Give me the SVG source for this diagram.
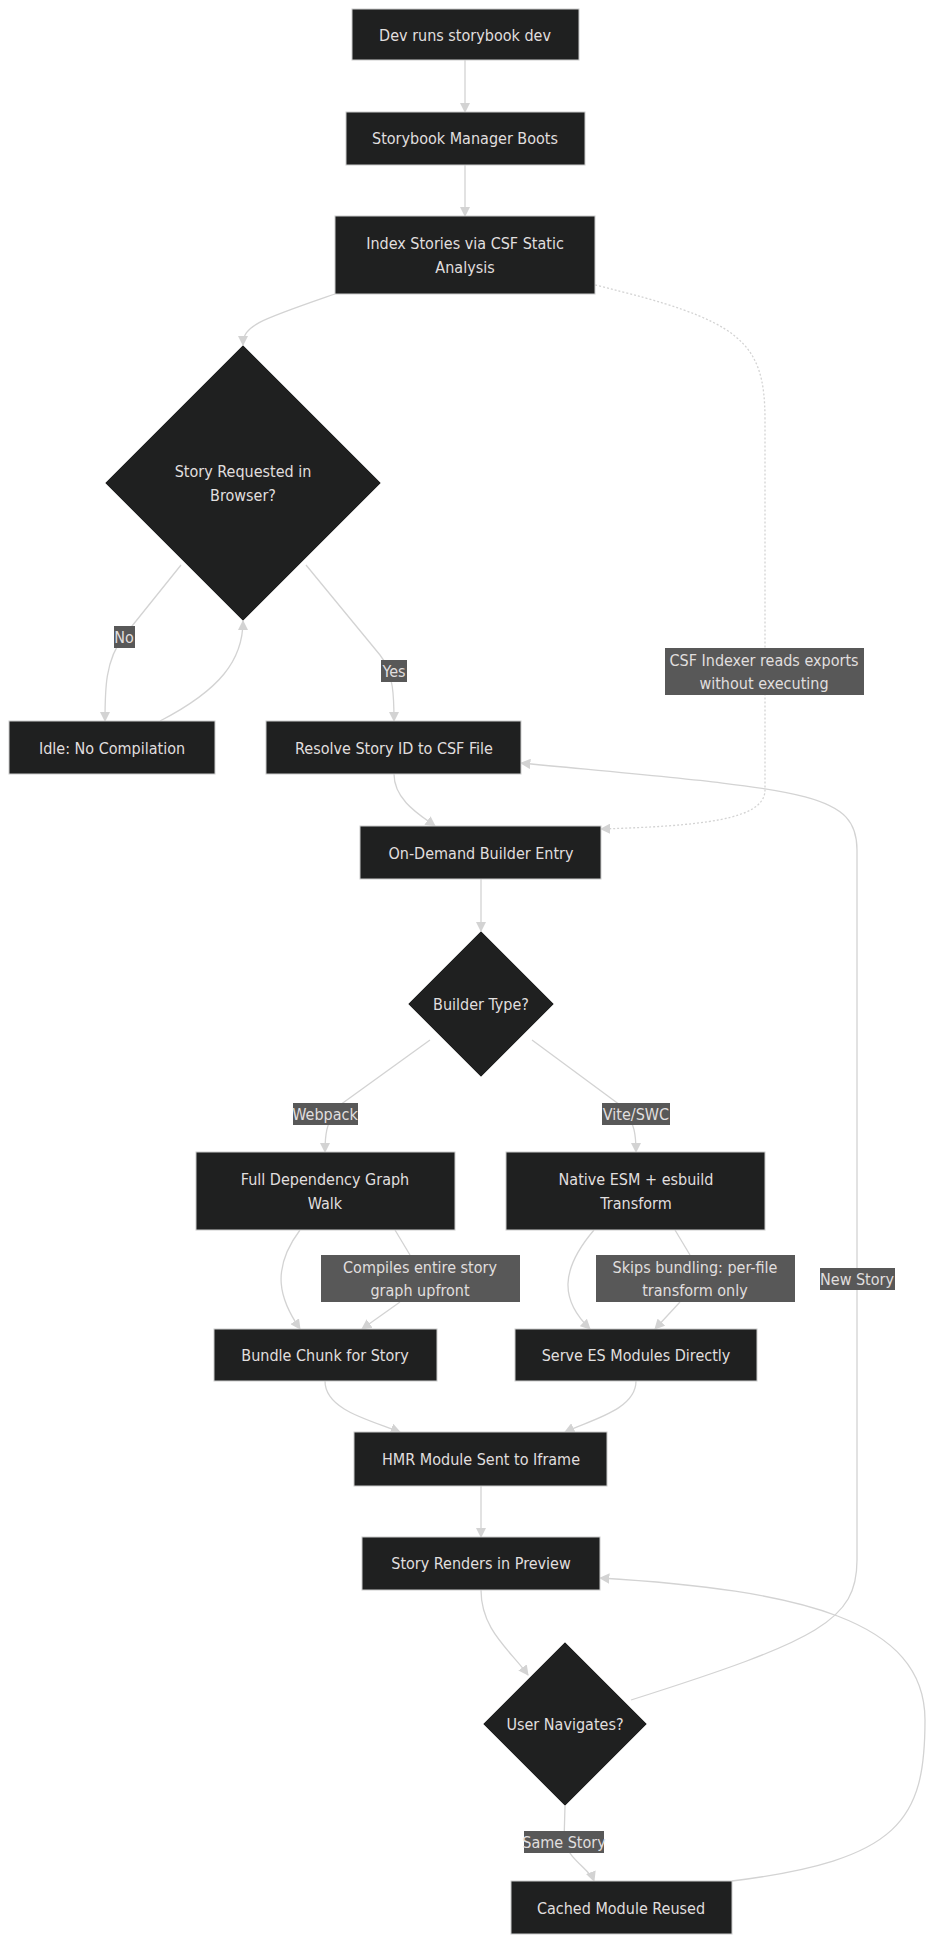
<svg xmlns="http://www.w3.org/2000/svg" width="933" height="1940" viewBox="0 0 933 1940">
<defs>
<style>
.n{fill:#1f2020;stroke:#cccccc;stroke-width:1}
.t{font-family:"DejaVu Sans Condensed","Liberation Sans",sans-serif;font-size:16px;fill:#e0dfdf;text-anchor:middle;dominant-baseline:central}
.e{fill:none;stroke:#d3d3d3;stroke-width:1.3}
.d{stroke-dasharray:2 2}
.lb{fill:#585858}
</style>
<marker id="a" viewBox="0 0 10 10" refX="9" refY="5" markerWidth="8" markerHeight="8" orient="auto"><path d="M0,0L10,5L0,10z" fill="#d3d3d3"/></marker>
</defs>
<rect width="933" height="1940" fill="#ffffff"/>
<g id="connectors">
<path class="e" marker-end="url(#a)" d="M465,60L465,112"/>
<path class="e" marker-end="url(#a)" d="M465,165L465,216"/>
<path class="e" marker-end="url(#a)" d="M335,294C260,320 243,325 243,345"/>
<path class="e d" marker-end="url(#a)" d="M595,285C740,320 765,340 765,420L765,790C765,820 700,826 601,829"/>
<path class="e" marker-end="url(#a)" d="M181,565L124,636C105,660 105,690 105,721"/>
<path class="e" marker-end="url(#a)" d="M160,721C220,690 243,660 243,621"/>
<path class="e" marker-end="url(#a)" d="M306,565L380,655C394,672 394,700 394,721"/>
<path class="e" marker-end="url(#a)" d="M394,774C394,800 420,815 435,826"/>
<path class="e" marker-end="url(#a)" d="M481,879L481,931"/>
<path class="e" marker-end="url(#a)" d="M430,1040L340,1105C325,1120 325,1140 325,1152"/>
<path class="e" marker-end="url(#a)" d="M532,1040L620,1105C636,1120 636,1140 636,1152"/>
<path class="e" marker-end="url(#a)" d="M300,1230C270,1270 280,1300 300,1329"/>
<path class="e" marker-end="url(#a)" d="M395,1230L410,1255M400,1302L362,1329"/>
<path class="e" marker-end="url(#a)" d="M594,1230C560,1270 560,1300 590,1329"/>
<path class="e" marker-end="url(#a)" d="M675,1230L690,1255M680,1302L655,1329"/>
<path class="e" marker-end="url(#a)" d="M325,1381C325,1410 370,1420 400,1432"/>
<path class="e" marker-end="url(#a)" d="M636,1381C636,1410 590,1420 565,1432"/>
<path class="e" marker-end="url(#a)" d="M481,1486L481,1537"/>
<path class="e" marker-end="url(#a)" d="M481,1590C481,1630 510,1650 528,1675"/>
<path class="e" marker-end="url(#a)" d="M631,1700C820,1640 857,1620 857,1560L857,850C857,790 800,790 521,763"/>
<path class="e" marker-end="url(#a)" d="M565,1806L564,1842C570,1860 590,1870 594,1881"/>
<path class="e" marker-end="url(#a)" d="M732,1881C900,1860 925,1820 925,1720C925,1620 800,1590 600,1578"/>
<rect class="lb" x="114" y="626" width="21" height="22"/><text class="t" x="124" y="637">No</text>
<rect class="lb" x="381" y="660" width="26" height="22"/><text class="t" x="394" y="671">Yes</text>
<rect class="lb" x="665" y="648" width="199" height="47"/><text class="t" x="764" y="660">CSF Indexer reads exports</text><text class="t" x="764" y="683">without executing</text>
<rect class="lb" x="293" y="1103" width="65" height="22"/><text class="t" x="325" y="1114">Webpack</text>
<rect class="lb" x="602" y="1103" width="68" height="22"/><text class="t" x="636" y="1114">Vite/SWC</text>
<rect class="lb" x="321" y="1255" width="199" height="47"/><text class="t" x="420" y="1267">Compiles entire story</text><text class="t" x="420" y="1290">graph upfront</text>
<rect class="lb" x="596" y="1255" width="199" height="47"/><text class="t" x="695" y="1267">Skips bundling: per-file</text><text class="t" x="695" y="1290">transform only</text>
<rect class="lb" x="820" y="1268" width="75" height="22"/><text class="t" x="857" y="1279">New Story</text>
<rect class="lb" x="524" y="1831" width="80" height="22"/><text class="t" x="564" y="1842">Same Story</text>
</g>
<g id="n1"><rect class="n" x="352" y="9" width="227" height="51"/><text class="t" x="465" y="35">Dev runs storybook dev</text></g>
<g id="n2"><rect class="n" x="346" y="112" width="239" height="53"/><text class="t" x="465" y="138">Storybook Manager Boots</text></g>
<g id="n3"><rect class="n" x="335" y="216" width="260" height="78"/><text class="t" x="465" y="243">Index Stories via CSF Static</text><text class="t" x="465" y="267">Analysis</text></g>
<g id="d1"><polygon class="n" points="243,345 381,483 243,621 105,483"/><text class="t" x="243" y="471">Story Requested in</text><text class="t" x="243" y="495">Browser?</text></g>
<g id="idle"><rect class="n" x="9" y="721" width="206" height="53"/><text class="t" x="112" y="748">Idle: No Compilation</text></g>
<g id="resolve"><rect class="n" x="266" y="721" width="255" height="53"/><text class="t" x="394" y="748">Resolve Story ID to CSF File</text></g>
<g id="ondemand"><rect class="n" x="360" y="826" width="241" height="53"/><text class="t" x="481" y="853">On-Demand Builder Entry</text></g>
<g id="d2"><polygon class="n" points="481,931 554,1004 481,1077 408,1004"/><text class="t" x="481" y="1004">Builder Type?</text></g>
<g id="full"><rect class="n" x="196" y="1152" width="259" height="78"/><text class="t" x="325" y="1179">Full Dependency Graph</text><text class="t" x="325" y="1203">Walk</text></g>
<g id="native"><rect class="n" x="506" y="1152" width="259" height="78"/><text class="t" x="636" y="1179">Native ESM + esbuild</text><text class="t" x="636" y="1203">Transform</text></g>
<g id="bundle"><rect class="n" x="214" y="1329" width="223" height="52"/><text class="t" x="325" y="1355">Bundle Chunk for Story</text></g>
<g id="serve"><rect class="n" x="515" y="1329" width="242" height="52"/><text class="t" x="636" y="1355">Serve ES Modules Directly</text></g>
<g id="hmr"><rect class="n" x="354" y="1432" width="253" height="54"/><text class="t" x="481" y="1459">HMR Module Sent to Iframe</text></g>
<g id="renders"><rect class="n" x="362" y="1537" width="238" height="53"/><text class="t" x="481" y="1563">Story Renders in Preview</text></g>
<g id="d3"><polygon class="n" points="565,1642 647,1724 565,1806 483,1724"/><text class="t" x="565" y="1724">User Navigates?</text></g>
<g id="cached"><rect class="n" x="511" y="1881" width="221" height="53"/><text class="t" x="621" y="1908">Cached Module Reused</text></g>
</svg>
